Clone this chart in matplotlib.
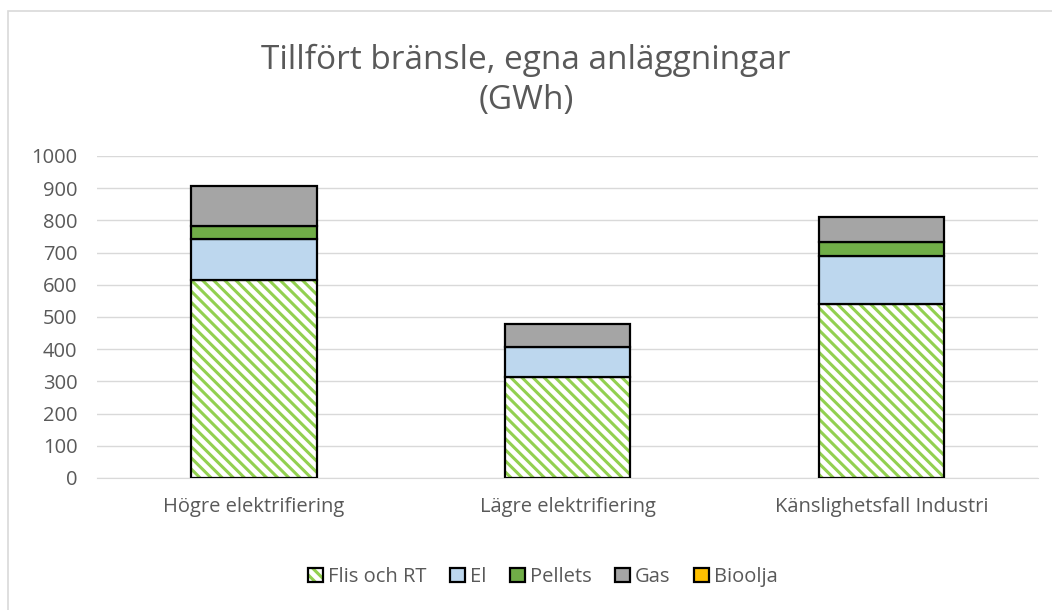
import matplotlib.pyplot as plt
from matplotlib.patches import Rectangle
import numpy as np

categories = ['Högre elektrifiering', 'Lägre elektrifiering', 'Känslighetsfall Industri']
series = ['Flis och RT', 'El', 'Pellets', 'Gas', 'Bioolja']
flis = [614, 314, 539]
el = [127, 94, 150]
pellets = [42, 0, 44]
gas = [124, 70, 78]
bioolja = [0, 0, 0]
colors = ['#92D050', '#BDD7EE', '#70AD47', '#A5A5A5', '#FFC000']

plt.rcParams['font.family'] = ['Open Sans', 'DejaVu Sans']
plt.rcParams['hatch.linewidth'] = 2.2

fig = plt.figure(figsize=(10.52, 6.1), dpi=100)
ax = fig.add_axes([0.0922, 0.2164, 0.8948, 0.5279])

fig.patches.append(Rectangle((8 / 1052, -0.1), 1.2, 1 - 11 / 610 + 0.1, transform=fig.transFigure,
                             fill=False, edgecolor='#D9D9D9', linewidth=1.2))

x = np.arange(len(categories))
width = 0.4
bottom = np.zeros(len(categories))
handles = []
for name, vals, c in zip(series, [flis, el, pellets, gas, bioolja], colors):
    vals = np.array(vals)
    if name == 'Flis och RT':
        ax.bar(x, vals, width, bottom=bottom, color='white', edgecolor=c, hatch='\\\\\\',
               linewidth=0, zorder=2)
        ax.bar(x, vals, width, bottom=bottom, fill=False, edgecolor='black', linewidth=1.6, zorder=3)
        h = (Rectangle((0, 0), 1, 1, facecolor='white', edgecolor=c, hatch='\\\\\\', linewidth=0),
             Rectangle((0, 0), 1, 1, facecolor='none', edgecolor='black', linewidth=1.6))
    else:
        keep = vals > 0
        ax.bar(x[keep], vals[keep], width, bottom=bottom[keep], color=c, edgecolor='black',
               linewidth=1.6, zorder=3)
        h = Rectangle((0, 0), 1, 1, facecolor=c, edgecolor='black', linewidth=1.6)
    handles.append(h)
    bottom += vals

ax.set_xlim(-0.5, 2.5)
ax.set_ylim(0, 1000)
ax.set_yticks(range(0, 1001, 100))
ax.set_xticks(x)
ax.set_xticklabels(categories)
ax.grid(axis='y', color='#D9D9D9', linewidth=1)
ax.set_axisbelow(True)
for s in ['top', 'right', 'left']:
    ax.spines[s].set_visible(False)
ax.spines['bottom'].set_color('#D9D9D9')
ax.tick_params(axis='both', length=0, labelsize=14.5, colors='#595959')
ax.tick_params(axis='y', pad=14)
ax.tick_params(axis='x', pad=14)

fig.text(0.5, 1 - 60 / 610, 'Tillfört bränsle, egna anläggningar', ha='center', va='center',
         fontsize=24, color='#595959')
fig.text(0.5, 1 - 100 / 610, '(GWh)', ha='center', va='center',
         fontsize=24, color='#595959')

leg = fig.legend(handles, series, loc='center', bbox_to_anchor=(0.516, 1 - 577 / 610), ncol=5,
                 frameon=False, fontsize=14.5, handlelength=0.75, handleheight=0.75,
                 handletextpad=0.25, columnspacing=1.15, labelcolor='#595959')

fig.savefig('out.png', dpi=100)
